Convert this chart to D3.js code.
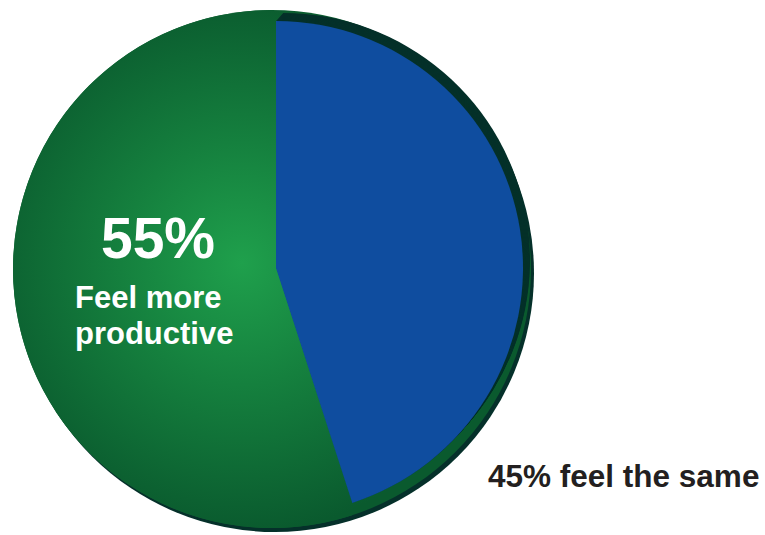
<!DOCTYPE html>
<html>
<head>
<meta charset="utf-8">
<script src="https://cdn.jsdelivr.net/npm/d3@7"></script>
<style>
  html, body { margin: 0; padding: 0; background: #ffffff; }
  svg { display: block; }
  text { font-family: "Liberation Sans", Arial, Helvetica, sans-serif; font-weight: bold; }
</style>
</head>
<body>
<svg id="chart" width="765" height="535"></svg>
<script>
// Survey answers
const categories = ["Feel the same", "Feel more productive"];
const values = [45, 55];
const sliceColors = ["#0f4d9f", "url(#greenGlow)"];

// Text shown on the chart
const bigLabel = "55%";
const bigLabelLines = ["Feel more", "productive"];
const sideLabel = "45% feel the same";

const svg = d3.select("#chart");

// Geometry of the pie body and the raised slice
const body = { cx: 272, cy: 269, r: 259 };
const face = { cx: 276, cy: 268, r: 247 };
const lift = { dx: 7, dy: -8, steps: 16 };

// Radial glow on the green part, in the body's local coordinates
const defs = svg.append("defs");
const grad = defs.append("radialGradient")
  .attr("id", "greenGlow")
  .attr("gradientUnits", "userSpaceOnUse")
  .attr("cx", -30).attr("cy", -6).attr("r", 270);
grad.append("stop").attr("offset", "0%").attr("stop-color", "#1fa04c");
grad.append("stop").attr("offset", "45%").attr("stop-color", "#15803e");
grad.append("stop").attr("offset", "100%").attr("stop-color", "#0a5a2e");

const pie = d3.pie().sort(null).value(d => d).startAngle(0).endAngle(2 * Math.PI);
const arcs = pie(values);

// Drop shadow under the whole pie
svg.append("circle")
  .attr("cx", body.cx + 3).attr("cy", body.cy + 4).attr("r", body.r)
  .attr("fill", "#05302a");

// Pie body and the green 55% slice
const bodyG = svg.append("g").attr("transform", `translate(${body.cx},${body.cy})`);
bodyG.append("circle")
  .attr("r", body.r)
  .attr("fill", "url(#greenGlow)");
const bodyArc = d3.arc().innerRadius(0).outerRadius(body.r);
bodyG.append("path")
  .attr("d", bodyArc(arcs[1]))
  .attr("fill", sliceColors[1]);

// Blue 45% slice, raised with a dark side wall
const faceArc = d3.arc().innerRadius(0).outerRadius(face.r);
const raised = svg.append("g");
const sideSteps = d3.range(lift.steps, 0, -1);
raised.selectAll("path.side")
  .data(sideSteps)
  .join("path")
  .attr("class", "side")
  .attr("transform", k => `translate(${face.cx + lift.dx * k / lift.steps},${face.cy + lift.dy * k / lift.steps})`)
  .attr("d", faceArc(arcs[0]))
  .attr("fill", "#05312a");
raised.append("path")
  .attr("transform", `translate(${face.cx},${face.cy})`)
  .attr("d", faceArc(arcs[0]))
  .attr("fill", sliceColors[0]);

// Labels
svg.append("text")
  .attr("x", 158).attr("y", 258)
  .attr("text-anchor", "middle")
  .attr("font-size", 57)
  .attr("fill", "#ffffff")
  .text(bigLabel);

svg.append("text")
  .attr("x", 75).attr("y", 308)
  .attr("font-size", 31)
  .attr("fill", "#ffffff")
  .selectAll("tspan")
  .data(bigLabelLines)
  .join("tspan")
  .attr("x", 75)
  .attr("dy", (d, i) => i === 0 ? 0 : 36)
  .text(d => d);

svg.append("text")
  .attr("x", 488).attr("y", 487)
  .attr("font-size", 31.5)
  .attr("fill", "#231f20")
  .text(sideLabel);
</script>
</body>
</html>
